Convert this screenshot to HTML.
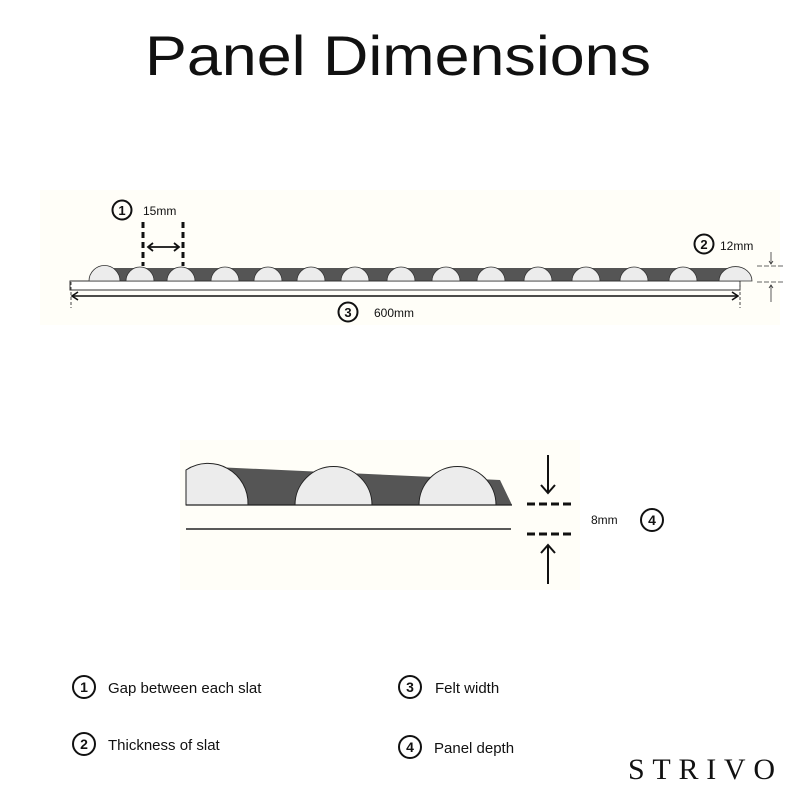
<!DOCTYPE html>
<html><head><meta charset="utf-8"><style>
html,body{margin:0;padding:0;background:#fff}
svg{display:block}
text{font-family:"Liberation Sans",sans-serif;fill:#111}
</style></head><body>
<svg width="800" height="800" viewBox="0 0 800 800" xmlns="http://www.w3.org/2000/svg">
<rect width="800" height="800" fill="#fff"/>
<rect x="40" y="190" width="740" height="135" fill="#fffef8"/>
<rect x="180" y="440" width="400" height="150" fill="#fffef8"/>
<text x="145" y="75" font-size="56" textLength="506" lengthAdjust="spacingAndGlyphs">Panel Dimensions</text>

<!-- top panel -->
<polygon points="95,268 740,268 745,281 90,281" fill="#555"/>
<rect x="70" y="281" width="670" height="9" fill="#fff" stroke="#333" stroke-width="1"/>
<g fill="#ececec" stroke="#333" stroke-width="0.8">
<path d="M89,281 A15,15 0 0 1 120,281 Z"/>
<path d="M126,281 A14,14 0 0 1 154,281 Z"/>
<path d="M167,281 A14,14 0 0 1 195,281 Z"/>
<path d="M211,281 A14,14 0 0 1 239,281 Z"/>
<path d="M254,281 A14,14 0 0 1 282,281 Z"/>
<path d="M297,281 A14,14 0 0 1 325,281 Z"/>
<path d="M341,281 A14,14 0 0 1 369,281 Z"/>
<path d="M387,281 A14,14 0 0 1 415,281 Z"/>
<path d="M432,281 A14,14 0 0 1 460,281 Z"/>
<path d="M477,281 A14,14 0 0 1 505,281 Z"/>
<path d="M524,281 A14,14 0 0 1 552,281 Z"/>
<path d="M572,281 A14,14 0 0 1 600,281 Z"/>
<path d="M620,281 A14,14 0 0 1 648,281 Z"/>
<path d="M669,281 A14,14 0 0 1 697,281 Z"/>
<path d="M719,281 A16,14 0 0 1 752,281 Z"/>
</g>
<!-- 15mm -->
<g stroke="#111" stroke-width="3" stroke-dasharray="6,4">
<line x1="143" y1="222" x2="143" y2="266"/>
<line x1="183" y1="222" x2="183" y2="266"/>
</g>
<line x1="149" y1="247" x2="178" y2="247" stroke="#111" stroke-width="1.8"/>
<path d="M153,243 L148,247 L153,251 M174,243 L179,247 L174,251" fill="none" stroke="#111" stroke-width="1.8"/>
<circle cx="122" cy="210" r="9.5" fill="none" stroke="#111" stroke-width="2"/>
<text x="122" y="215" font-size="13" font-weight="bold" text-anchor="middle">1</text>
<text x="143" y="215" font-size="12">15mm</text>
<!-- 600mm -->
<line x1="72" y1="296" x2="738" y2="296" stroke="#111" stroke-width="1.6"/>
<path d="M78,292 L72,296 L78,300 M732,292 L738,296 L732,300" fill="none" stroke="#111" stroke-width="1.6"/>
<line x1="71" y1="282" x2="71" y2="308" stroke="#444" stroke-width="1" stroke-dasharray="3,2"/>
<line x1="740" y1="282" x2="740" y2="308" stroke="#444" stroke-width="1" stroke-dasharray="3,2"/>
<circle cx="348" cy="312" r="9.5" fill="none" stroke="#111" stroke-width="2"/>
<text x="348" y="317" font-size="13" font-weight="bold" text-anchor="middle">3</text>
<text x="374" y="317" font-size="12">600mm</text>
<!-- 12mm -->
<circle cx="704" cy="244" r="9.5" fill="none" stroke="#111" stroke-width="2"/>
<text x="704" y="249" font-size="13" font-weight="bold" text-anchor="middle">2</text>
<text x="720" y="250" font-size="12">12mm</text>
<g stroke="#333" stroke-width="0.8">
<line x1="757" y1="266" x2="785" y2="266" stroke-dasharray="5,2"/>
<line x1="757" y1="282" x2="785" y2="282" stroke-dasharray="5,2"/>
<line x1="771" y1="252" x2="771" y2="264"/>
<line x1="771" y1="285" x2="771" y2="302"/>
</g>
<path d="M769,261 L771,264 L773,261 M769,288 L771,285 L773,288" fill="none" stroke="#333" stroke-width="0.8"/>

<!-- bottom panel -->
<polygon points="186,471 215,467 500,480 512,505 186,505" fill="#555"/>
<g fill="#ececec" stroke="#222" stroke-width="1">
<path d="M186,470 A40,40 0 0 1 248,505 L186,505 Z"/>
<path d="M295,505 A38,38 0 0 1 372,505 Z"/>
<path d="M419,505 A38,38 0 0 1 496,505 Z"/>
</g>
<line x1="186" y1="505" x2="512" y2="505" stroke="#222" stroke-width="1.2"/>
<line x1="186" y1="529" x2="511" y2="529" stroke="#222" stroke-width="1.5"/>
<g stroke="#111" stroke-width="3" stroke-dasharray="8,4">
<line x1="527" y1="504" x2="573" y2="504"/>
<line x1="527" y1="534" x2="573" y2="534"/>
</g>
<g stroke="#111" stroke-width="2" fill="none">
<line x1="548" y1="455" x2="548" y2="493"/>
<path d="M541,485 L548,493 L555,485"/>
<line x1="548" y1="545" x2="548" y2="584"/>
<path d="M541,553 L548,545 L555,553"/>
</g>
<text x="591" y="524" font-size="12">8mm</text>
<circle cx="652" cy="520" r="11" fill="none" stroke="#111" stroke-width="2"/>
<text x="652" y="525" font-size="14" font-weight="bold" text-anchor="middle">4</text>

<!-- legend -->
<g font-size="15">
<circle cx="84" cy="687" r="11" fill="none" stroke="#111" stroke-width="2"/>
<text x="84" y="692" font-size="14" font-weight="bold" text-anchor="middle">1</text>
<text x="108" y="693">Gap between each slat</text>
<circle cx="84" cy="744" r="11" fill="none" stroke="#111" stroke-width="2"/>
<text x="84" y="749" font-size="14" font-weight="bold" text-anchor="middle">2</text>
<text x="108" y="750">Thickness of slat</text>
<circle cx="410" cy="687" r="11" fill="none" stroke="#111" stroke-width="2"/>
<text x="410" y="692" font-size="14" font-weight="bold" text-anchor="middle">3</text>
<text x="435" y="693">Felt width</text>
<circle cx="410" cy="747" r="11" fill="none" stroke="#111" stroke-width="2"/>
<text x="410" y="752" font-size="14" font-weight="bold" text-anchor="middle">4</text>
<text x="434" y="753">Panel depth</text>
</g>
<text x="628" y="779" font-size="30" font-family="Liberation Serif,serif" style="font-family:'Liberation Serif',serif" textLength="147" lengthAdjust="spacing" fill="#222">STRIVO</text>
</svg>
</body></html>
